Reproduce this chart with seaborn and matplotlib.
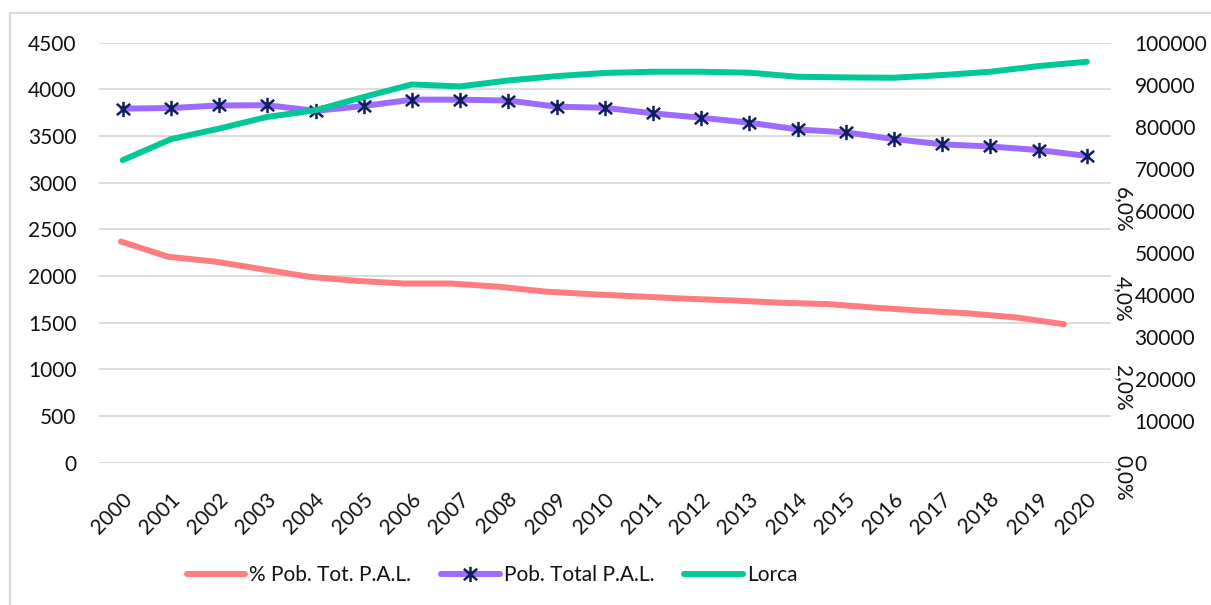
import numpy as np
import pandas as pd
import seaborn as sns
import matplotlib.pyplot as plt
from matplotlib.path import Path
from matplotlib.lines import Line2D
from matplotlib.transforms import ScaledTranslation


years = list(range(2000, 2021))

# Pob. Total P.A.L. (left axis)
pob_pal = [3794, 3800, 3828, 3830, 3770, 3822, 3890, 3890, 3880, 3815, 3803,
           3743, 3696, 3643, 3571, 3539, 3468, 3411, 3388, 3350, 3287]

# Lorca (right axis)
lorca = [72040, 77030, 79560, 82330, 83920, 87080, 90070, 89590, 91020, 92050, 92800,
         93090, 93090, 92860, 91900, 91730, 91660, 92300, 93090, 94440, 95470]

# % Pob. Tot. P.A.L. (third axis, percent)
pct_pal = [4.95, 4.61, 4.50, 4.33, 4.16, 4.07, 4.01, 4.01, 3.94, 3.83, 3.77,
           3.72, 3.67, 3.63, 3.58, 3.55, 3.47, 3.40, 3.34, 3.25, 3.10]

left_ticks = list(range(0, 5000, 500))
right_ticks = list(range(0, 110000, 10000))
pct_ticks = [0, 2, 4, 6]
pct_labels = ['0,0%', '2,0%', '4,0%', '6,0%']

df = pd.DataFrame({'year': years, 'pob_pal': pob_pal, 'lorca': lorca, 'pct': pct_pal})

sns.set_style('white')
plt.rcParams['font.family'] = ['Lato', 'DejaVu Sans']
plt.rcParams['font.size'] = 15
text_color = '#111111'

RED = '#FF7C80'
PURPLE = '#9D6BFF'
GREEN = '#00C896'
NAVY = '#0E1E5B'
GRID = '#D9D9D9'

# asterisk marker like excel's (x + vertical bar)
star = Path([(-1, -0.85), (1, 0.85), (-1, 0.85), (1, -0.85), (0, -1.15), (0, 1.15)],
            [Path.MOVETO, Path.LINETO, Path.MOVETO, Path.LINETO, Path.MOVETO, Path.LINETO])

rect = [0.0814, 0.2352, 0.9174 - 0.0814, 0.9294 - 0.2352]
fig = plt.figure(figsize=(12.11, 6.05), dpi=100)
ax = fig.add_axes(rect)
# the % series sits on its own secondary category axis, slightly narrower spacing
ax3 = fig.add_axes(rect)
ax3.patch.set_visible(False)
ax2 = ax.twinx()

lw = 4.3
sns.lineplot(data=df, x='year', y='pct', ax=ax3, color=RED, linewidth=lw,
             label='% Pob. Tot. P.A.L.', legend=False)
sns.lineplot(data=df, x='year', y='pob_pal', ax=ax, color=PURPLE, linewidth=lw,
             marker=star, markersize=11, markeredgecolor=NAVY, markerfacecolor=NAVY,
             markeredgewidth=1.8, label='Pob. Total P.A.L.', legend=False, zorder=3)
sns.lineplot(data=df, x='year', y='lorca', ax=ax2, color=GREEN, linewidth=lw,
             label='Lorca', legend=False)

for a in (ax, ax2, ax3):
    a.set_xlim(1999.5, 2020.5)
    a.set_xlabel('')
    a.set_ylabel('')
    for s in a.spines.values():
        s.set_visible(False)

ax.set_ylim(0, 4500)
ax.set_yticks(left_ticks)
ax.grid(axis='y', color=GRID, linewidth=1.3)
ax.grid(axis='x', visible=False)
ax.tick_params(axis='y', length=0, pad=16, labelcolor=text_color)
ax.set_xticks(years)
ax.set_xticklabels([str(y) for y in years], rotation=45, ha='right',
                   rotation_mode='anchor', va='center')
ax.tick_params(axis='x', length=0, pad=24, labelcolor=text_color)
offset = ScaledTranslation(6 / 100, 0, fig.dpi_scale_trans)
for lab in ax.get_xticklabels():
    lab.set_transform(lab.get_transform() + offset)

ax2.set_ylim(0, 100000)
ax2.set_yticks(right_ticks)
ax2.tick_params(axis='y', length=0, pad=17, labelcolor=text_color)

ax3.set_xlim(1999.525, 2021.0)
ax3.set_ylim(0, 9.4)
ax3.set_xticks([])
ax3.set_yticks([])
ax3.grid(False)
for v, lab in zip(pct_ticks, pct_labels):
    ax3.annotate(lab, xy=(1, v), xycoords=('axes fraction', 'data'),
                 xytext=(2, 8), textcoords='offset pixels', rotation=-90,
                 ha='left', va='top', color=text_color, annotation_clip=False)

handles = [ax3.get_lines()[0], ax.get_lines()[0], ax2.get_lines()[0]]
labels = ['% Pob. Tot. P.A.L.', 'Pob. Total P.A.L.', 'Lorca']
fig.legend(handles, labels, loc='center', bbox_to_anchor=(492 / 1211, 1 - 575 / 605),
           ncol=3, frameon=False, handlelength=2.8, handletextpad=0.2,
           columnspacing=1.45, labelcolor=text_color)

# chart border
fig.add_artist(Line2D([10 / 1211, 10 / 1211], [0, 1 - 13 / 605], color=GRID, linewidth=1.5))
fig.add_artist(Line2D([10 / 1211, 1], [1 - 13 / 605, 1 - 13 / 605], color=GRID, linewidth=1.5))

fig.savefig('out.png', dpi=100)
